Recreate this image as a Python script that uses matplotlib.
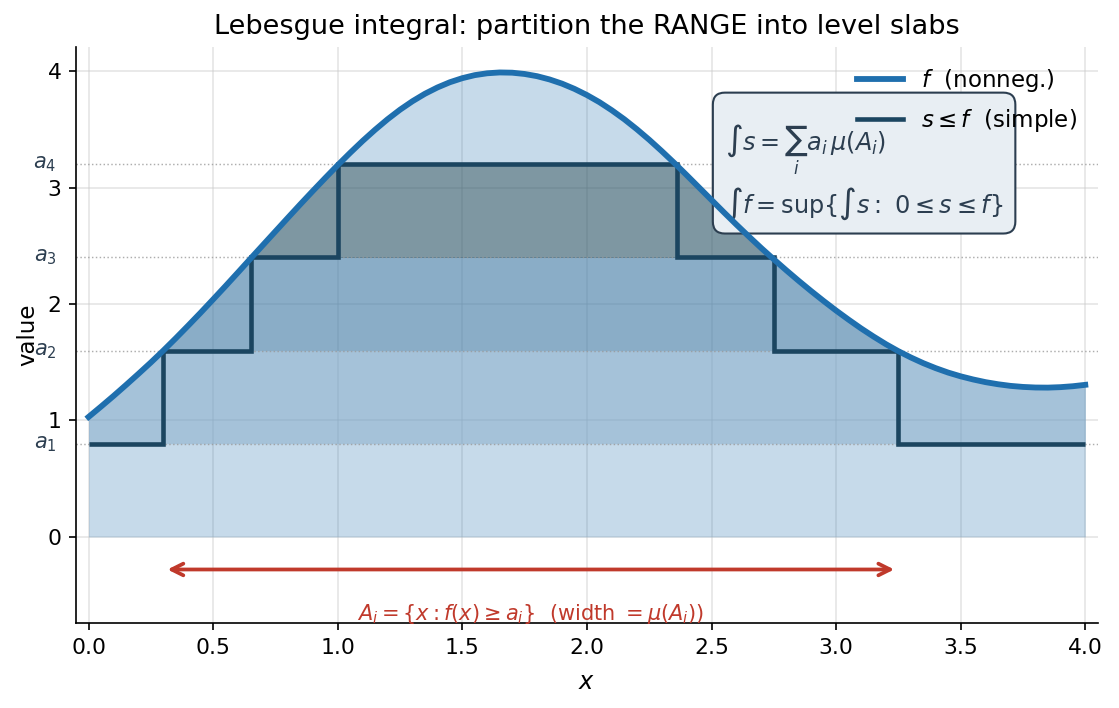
import matplotlib
matplotlib.use('Agg')
import matplotlib.pyplot as plt
from matplotlib.lines import Line2D
from matplotlib.patches import Rectangle
import numpy as np

# f, every 0.05 in x
x = np.round(np.arange(0, 4.001, 0.05), 2)
f = np.array([1.030, 1.119, 1.210, 1.304, 1.400, 1.498, 1.600, 1.706, 1.815, 1.926,
              2.040, 2.155, 2.272, 2.390, 2.507, 2.624, 2.741, 2.857, 2.971, 3.083,
              3.193, 3.299, 3.401, 3.497, 3.587, 3.669, 3.742, 3.806, 3.860, 3.905,
              3.940, 3.966, 3.982, 3.989, 3.987, 3.976, 3.957, 3.929, 3.893, 3.848,
              3.795, 3.734, 3.664, 3.587, 3.502, 3.411, 3.314, 3.213, 3.108, 3.001,
              2.894, 2.787, 2.682, 2.580, 2.480, 2.384, 2.290, 2.199, 2.111, 2.026,
              1.944, 1.866, 1.791, 1.721, 1.655, 1.595, 1.541, 1.492, 1.449, 1.411,
              1.379, 1.352, 1.329, 1.311, 1.297, 1.288, 1.283, 1.282, 1.286, 1.294,
              1.306])

levels = [0.8, 1.6, 2.4, 3.2]
level_labels = ['$a_1$', '$a_2$', '$a_3$', '$a_4$']

# simple function s <= f
s_edges = [0.0, 0.3, 0.65, 1.0, 2.36, 2.75, 3.25, 4.0]
s_vals = [0.8, 1.6, 2.4, 3.2, 2.4, 1.6, 0.8]

arrow_x = [0.3, 3.25]

c_f = '#1f6fae'
c_s = '#1b4560'
c_red = '#c0392b'
c_txt = '#2c3e50'
band_colors = ['#85abca', '#4f81a6', '#37555c']

fig = plt.figure(figsize=(1119 / 150, 708 / 150), dpi=150)
ax = fig.add_axes([0.068, 0.120, 0.913, 0.814])
ax.set_axisbelow(True)
ax.grid(True, color='#cccccc', alpha=0.5, lw=0.8)

# area under f
ax.fill_between(x, 0, f, color=c_f, alpha=0.25, lw=0)

# level slabs, each one clipped to [a_i, a_{i+1}]
for lo, hi, col in zip(levels[:-1], levels[1:], band_colors):
    poly = ax.fill_between(x, lo, f, where=f >= lo, interpolate=True,
                           color=col, alpha=0.5, lw=0)
    clip = Rectangle((-1, lo), 6, hi - lo, transform=ax.transData)
    poly.set_clip_path(clip)

for a, lab in zip(levels, level_labels):
    ax.axhline(a, color='#999999', ls=':', lw=0.7, alpha=0.8, zorder=2)
    ax.text(-0.019, a, lab, transform=ax.get_yaxis_transform(),
            ha='right', va='center', fontsize=10, color=c_txt)

ax.stairs(s_vals, s_edges, baseline=None, color=c_s, lw=2.2, zorder=3)
ax.plot(x, f, color=c_f, lw=2.8, zorder=4)

ax.annotate('', xy=(arrow_x[0], -0.28), xytext=(arrow_x[1], -0.28),
            arrowprops=dict(arrowstyle='<->', color=c_red, lw=1.8,
                            mutation_scale=14))
ax.text(sum(arrow_x) / 2, -0.665,
        r'$A_i=\{x: f(x)\geq a_i\}$  (width $=\mu(A_i)$)',
        ha='center', va='center', fontsize=10, color=c_red)

ax.text(0.635, 0.869,
        r'$\int s=\sum_i a_i\,\mu(A_i)$' + '\n' + r'$\int f=\sup\{\int s:\ 0\leq s\leq f\}$',
        transform=ax.transAxes, ha='left', va='top', fontsize=11.5, color=c_txt,
        linespacing=1.3,
        bbox=dict(boxstyle='round,pad=0.5', fc='#e8eef3', ec=c_txt, lw=1))

handles = [Line2D([], [], color=c_f, lw=2.8),
           Line2D([], [], color=c_s, lw=2.2)]
ax.legend(handles, [r'$f$  (nonneg.)', r'$s\leq f$  (simple)'],
          loc='upper right', frameon=False, fontsize=11, labelspacing=0.56)

ax.set_xlim(-0.05, 4.05)
ax.set_ylim(-0.74, 4.21)
ax.set_xticks(np.arange(0, 4.01, 0.5))
ax.set_yticks([0, 1, 2, 3, 4])
ax.tick_params(labelsize=10.5)
ax.set_xlabel('$x$', fontsize=11.5, labelpad=6)
ax.set_ylabel('value', fontsize=11)
ax.set_title('Lebesgue integral: partition the RANGE into level slabs', fontsize=13)
ax.spines['top'].set_visible(False)
ax.spines['right'].set_visible(False)

plt.savefig('out.png', dpi=150)
plt.close()
